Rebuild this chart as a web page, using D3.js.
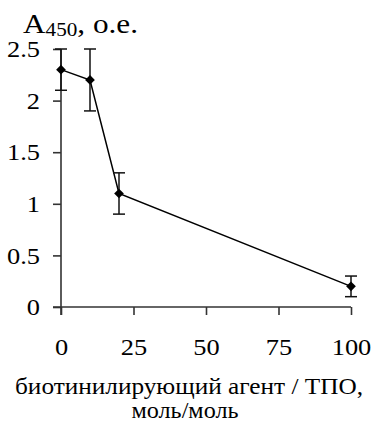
<!DOCTYPE html>
<html><head><meta charset="utf-8">
<script src="https://cdn.jsdelivr.net/npm/d3@7"></script>
<style>
body{margin:0;background:#fff}
svg{display:block}
</style>
</head><body><svg id="c" width="372" height="426" font-family="Liberation Serif"></svg>
<script>
const xValues = [0, 10, 20, 100];
const yValues = [2.3, 2.2, 1.1, 0.2];
const yErrUp = [0.2, 0.3, 0.2, 0.1];
const yErrDown = [0.2, 0.3, 0.2, 0.1];
const xTicks = [0, 25, 50, 75, 100];
const yTicks = [0, 0.5, 1, 1.5, 2, 2.5];
const yTickLabels = ["0", "0.5", "1", "1.5", "2", "2.5"];
const xTitle = ["биотинилирующий агент / ТПО,", "моль/моль"];

const FONT = "Liberation Serif";
const svg = d3.select("#c");
const x = d3.scaleLinear().domain([0, 100]).range([61, 351]);
const y = d3.scaleLinear().domain([0, 2.5]).range([307, 49]);

const fs = 24;
const axisColor = "#333";
const stretch = 1.1;

function widen(sel){
  sel.each(function(){ const w = this.getComputedTextLength(); if (w > 0) d3.select(this).attr("textLength", w*stretch).attr("lengthAdjust","spacingAndGlyphs"); });
}

// y axis
const yAxis = svg.append("g").attr("transform", "translate(61,0)")
  .call(d3.axisLeft(y).tickValues(yTicks).tickFormat((d,i)=>yTickLabels[i]).tickSize(8).tickPadding(13));
yAxis.attr("font-family", FONT).attr("font-size", fs);
yAxis.select(".domain").attr("stroke", axisColor).attr("stroke-width", 1.6).attr("d", `M0,${y(2.5)}V${y(0)+8}`);
yAxis.selectAll(".tick line").attr("stroke", axisColor).attr("stroke-width", 1.6);
yAxis.selectAll(".tick text").attr("fill", "#000").call(widen);

// x axis
const xAxis = svg.append("g").attr("transform", `translate(0,${y(0)})`)
  .call(d3.axisBottom(x).tickValues(xTicks).tickSize(8).tickPadding(23));
xAxis.attr("font-family", FONT).attr("font-size", fs);
xAxis.select(".domain").attr("stroke", axisColor).attr("stroke-width", 1.6).attr("d", `M${x(0)-8},0H${x(100)}`);
xAxis.selectAll(".tick line").attr("stroke", axisColor).attr("stroke-width", 1.6);
xAxis.selectAll(".tick text").attr("fill", "#000").call(widen);

// line
const pts = xValues.map((v,i)=>({x:v,y:yValues[i],up:yErrUp[i],dn:yErrDown[i]}));
svg.append("path").datum(pts)
  .attr("d", d3.line().x(d=>x(d.x)).y(d=>y(d.y)))
  .attr("fill","none").attr("stroke","#000").attr("stroke-width",1.5);

// error bars
const eb = svg.append("g").attr("stroke","#111").attr("stroke-width",1.5);
pts.forEach(d=>{
  const cx = x(d.x);
  eb.append("line").attr("x1",cx).attr("x2",cx).attr("y1",y(d.y+d.up)).attr("y2",y(d.y-d.dn));
  eb.append("line").attr("x1",cx-6).attr("x2",cx+6).attr("y1",y(d.y+d.up)).attr("y2",y(d.y+d.up));
  eb.append("line").attr("x1",cx-6).attr("x2",cx+6).attr("y1",y(d.y-d.dn)).attr("y2",y(d.y-d.dn));
});

// markers
svg.append("g").selectAll("path").data(pts).join("path")
  .attr("transform", d=>`translate(${x(d.x)},${y(d.y)})`)
  .attr("d", d3.symbol(d3.symbolDiamond2, 60))
  .attr("fill","#000");

// y title
const t = svg.append("text").attr("x", 23).attr("y", 33).attr("font-family", FONT).attr("font-size", 28)
  .attr("textLength", 115).attr("lengthAdjust","spacingAndGlyphs");
t.append("tspan").text("A");
t.append("tspan").attr("font-size", 19).attr("dy", 3).text("450");
t.append("tspan").attr("dy", -3).text(", о.е.");

// x title
svg.append("text").attr("x", 189).attr("y", 394).attr("text-anchor","middle").attr("font-family", FONT).attr("font-size", fs)
  .attr("textLength", 348).attr("lengthAdjust","spacingAndGlyphs").text(xTitle[0]);
svg.append("text").attr("x", 185).attr("y", 418).attr("text-anchor","middle").attr("font-family", FONT).attr("font-size", fs)
  .attr("textLength", 107).attr("lengthAdjust","spacingAndGlyphs").text(xTitle[1]);
</script></body></html>
